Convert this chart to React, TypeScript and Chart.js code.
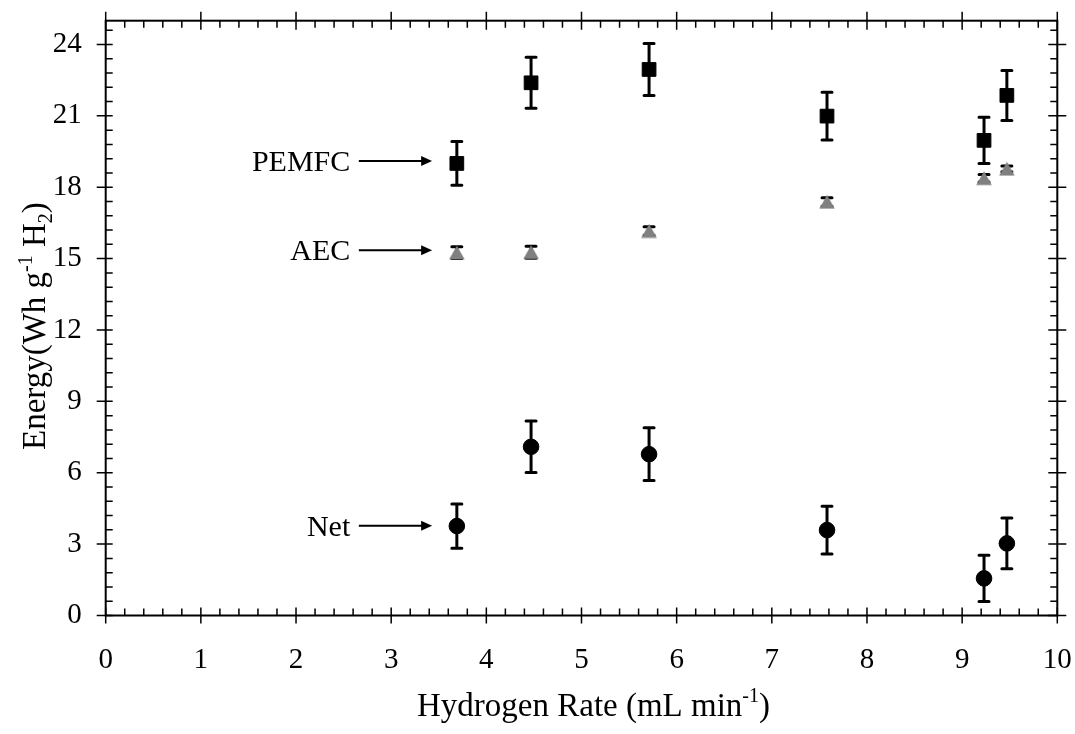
import React, { useEffect, useRef } from 'react';
import { Chart, registerables } from 'chart.js';

Chart.register(...registerables);

// ---------- data ----------
const xRates = [3.69, 4.47, 5.71, 7.58, 9.23, 9.47];
const pemfcEnergy = [19.0, 22.39, 22.95, 20.99, 19.97, 21.86];
const pemfcErr = [0.92, 1.07, 1.09, 1.0, 0.97, 1.05];
const aecEnergy = [15.25, 15.27, 16.16, 17.38, 18.38, 18.77];
const aecErr = [0.25, 0.25, 0.18, 0.18, 0.16, 0.12];
const netEnergy = [3.76, 7.09, 6.78, 3.59, 1.56, 3.03];
const netErr = [0.93, 1.08, 1.11, 1.0, 0.97, 1.07];

const xTicks = [0, 1, 2, 3, 4, 5, 6, 7, 8, 9, 10];
const yTicks = [0, 3, 6, 9, 12, 15, 18, 21, 24];
const xMinorStep = 0.2;
const yMinorStep = 0.6;

const annotationLabels = ['PEMFC', 'AEC', 'Net'];
const annotationY = [19.1, 15.35, 3.77];
const annotationTextEndX = 2.57;
const annotationArrowStartX = 2.66;
const annotationArrowEndX = 3.43;

const FONT = "'Liberation Serif', 'Times New Roman', serif";
const TICK_SIZE = 29;
const ANN_SIZE = 30;
const TITLE_SIZE = 33;

type Part = { t: string; sup?: boolean; sub?: boolean };

function drawRich(ctx: CanvasRenderingContext2D, parts: Part[], cx: number, baseY: number, size: number) {
  const small = Math.round(size * 0.62);
  let total = 0;
  const widths: number[] = [];
  for (const p of parts) {
    ctx.font = `${p.sup || p.sub ? small : size}px ${FONT}`;
    const w = ctx.measureText(p.t).width;
    widths.push(w);
    total += w;
  }
  let x = cx - total / 2;
  ctx.textAlign = 'left';
  ctx.textBaseline = 'alphabetic';
  parts.forEach((p, i) => {
    ctx.font = `${p.sup || p.sub ? small : size}px ${FONT}`;
    const dy = p.sup ? -size * 0.4 : p.sub ? size * 0.22 : 0;
    ctx.fillText(p.t, x, baseY + dy);
    x += widths[i];
  });
}

function makeTriangle(): HTMLCanvasElement {
  const c = document.createElement('canvas');
  c.width = 16;
  c.height = 15;
  const g = c.getContext('2d')!;
  g.fillStyle = '#808080';
  g.beginPath();
  g.moveTo(8, 0.5);
  g.lineTo(15.8, 14.2);
  g.lineTo(0.2, 14.2);
  g.closePath();
  g.fill();
  return c;
}

const errorBarPlugin = {
  id: 'errorBars',
  beforeDatasetsDraw(chart: any) {
    const ctx = chart.ctx as CanvasRenderingContext2D;
    const xs = chart.scales.x;
    const ys = chart.scales.y;
    ctx.save();
    ctx.strokeStyle = '#000';
    chart.data.datasets.forEach((ds: any) => {
      const errs: number[] = ds.errorBars || [];
      ds.data.forEach((pt: any, i: number) => {
        const e = errs[i];
        if (!e) return;
        const px = xs.getPixelForValue(pt.x);
        const top = ys.getPixelForValue(pt.y + e);
        const bot = ys.getPixelForValue(pt.y - e);
        ctx.lineWidth = 3;
        ctx.lineCap = 'butt';
        ctx.beginPath();
        ctx.moveTo(px, top);
        ctx.lineTo(px, bot);
        ctx.stroke();
        ctx.lineCap = 'round';
        ctx.beginPath();
        ctx.moveTo(px - 5, top);
        ctx.lineTo(px + 5, top);
        ctx.moveTo(px - 5, bot);
        ctx.lineTo(px + 5, bot);
        ctx.stroke();
      });
    });
    ctx.restore();
  },
};

const framePlugin = {
  id: 'frameTicks',
  afterDatasetsDraw(chart: any) {
    const ctx = chart.ctx as CanvasRenderingContext2D;
    const { left, right, top, bottom } = chart.chartArea;
    const xs = chart.scales.x;
    const ys = chart.scales.y;
    ctx.save();
    ctx.strokeStyle = '#000';
    ctx.lineCap = 'butt';
    ctx.lineWidth = 1.5;
    ctx.beginPath();
    const nx = Math.round((xs.max - xs.min) / xMinorStep);
    for (let i = 0; i <= nx; i++) {
      const v = xs.min + i * xMinorStep;
      const px = xs.getPixelForValue(v);
      const major = i % 5 === 0;
      if (major) {
        ctx.moveTo(px, bottom + 8);
        ctx.lineTo(px, bottom - 8);
        ctx.moveTo(px, top - 9);
        ctx.lineTo(px, top + 9);
      } else {
        ctx.moveTo(px, bottom);
        ctx.lineTo(px, bottom - 7);
        ctx.moveTo(px, top);
        ctx.lineTo(px, top + 7);
      }
    }
    const ny = Math.floor((ys.max - ys.min) / yMinorStep + 1e-6);
    for (let i = 0; i <= ny; i++) {
      const v = ys.min + i * yMinorStep;
      const py = ys.getPixelForValue(v);
      const major = i % 5 === 0;
      if (major) {
        ctx.moveTo(left - 9, py);
        ctx.lineTo(left + 7, py);
        ctx.moveTo(right + 9, py);
        ctx.lineTo(right - 9, py);
      } else {
        ctx.moveTo(left, py);
        ctx.lineTo(left + 7, py);
        ctx.moveTo(right, py);
        ctx.lineTo(right - 7, py);
      }
    }
    ctx.stroke();
    ctx.lineWidth = 2;
    ctx.strokeRect(left, top, right - left, bottom - top);
    ctx.restore();
  },
  afterDraw(chart: any) {
    const ctx = chart.ctx as CanvasRenderingContext2D;
    const { left, right, top, bottom } = chart.chartArea;
    const xs = chart.scales.x;
    const ys = chart.scales.y;
    ctx.save();
    ctx.fillStyle = '#000';
    ctx.strokeStyle = '#000';
    annotationLabels.forEach((lab, i) => {
      const py = ys.getPixelForValue(annotationY[i]);
      ctx.font = `${ANN_SIZE}px ${FONT}`;
      ctx.textAlign = 'right';
      ctx.textBaseline = 'alphabetic';
      ctx.fillText(lab, xs.getPixelForValue(annotationTextEndX), py + 10);
      const x0 = xs.getPixelForValue(annotationArrowStartX);
      const x1 = xs.getPixelForValue(annotationArrowEndX);
      ctx.lineWidth = 2;
      ctx.beginPath();
      ctx.moveTo(x0, py);
      ctx.lineTo(x1 - 8, py);
      ctx.stroke();
      ctx.beginPath();
      ctx.moveTo(x1, py);
      ctx.lineTo(x1 - 11, py - 5);
      ctx.lineTo(x1 - 11, py + 5);
      ctx.closePath();
      ctx.fill();
    });
    drawRich(
      ctx,
      [{ t: 'Hydrogen Rate (mL min' }, { t: '-1', sup: true }, { t: ')' }],
      (left + right) / 2 + 12,
      bottom + 100,
      TITLE_SIZE
    );
    ctx.save();
    ctx.translate(34, (top + bottom) / 2 + 8);
    ctx.rotate(-Math.PI / 2);
    drawRich(
      ctx,
      [{ t: 'Energy(Wh g' }, { t: '-1', sup: true }, { t: ' H' }, { t: '2', sub: true }, { t: ')' }],
      0,
      11,
      TITLE_SIZE
    );
    ctx.restore();
    ctx.restore();
  },
};

export default function App() {
  const ref = useRef<HTMLCanvasElement | null>(null);
  useEffect(() => {
    document.body.style.margin = '0';
    const canvas = ref.current!;
    const tri = makeTriangle();
    const mk = (vals: number[]) => xRates.map((x, i) => ({ x, y: vals[i] }));
    const chart = new Chart(canvas, {
      type: 'scatter',
      data: {
        datasets: [
          {
            label: 'PEMFC',
            data: mk(pemfcEnergy),
            errorBars: pemfcErr,
            pointStyle: 'rect',
            pointRadius: 9.7,
            backgroundColor: '#000',
            borderColor: '#000',
            borderWidth: 1,
          } as any,
          {
            label: 'AEC',
            data: mk(aecEnergy),
            errorBars: aecErr,
            pointStyle: tri,
            pointRadius: 8,
            backgroundColor: '#808080',
            borderColor: '#808080',
            borderWidth: 0,
          } as any,
          {
            label: 'Net',
            data: mk(netEnergy),
            errorBars: netErr,
            pointStyle: 'circle',
            pointRadius: 7.8,
            backgroundColor: '#000',
            borderColor: '#000',
            borderWidth: 1,
          } as any,
        ],
      },
      options: {
        responsive: false,
        animation: false,
        devicePixelRatio: 1,
        layout: { padding: { top: 20.7, right: 17.7, left: 0, bottom: 0 } },
        plugins: { legend: { display: false }, tooltip: { enabled: false } },
        events: [],
        scales: {
          x: {
            type: 'linear',
            position: 'bottom',
            min: 0,
            max: 10,
            grid: { display: false, drawTicks: false },
            border: { display: false },
            afterBuildTicks: (s: any) => {
              s.ticks = xTicks.map((v) => ({ value: v }));
            },
            afterFit: (s: any) => {
              s.height = 118.5;
              s.paddingLeft = 0;
              s.paddingRight = 0;
            },
            ticks: {
              color: '#000',
              padding: 27,
              maxRotation: 0,
              autoSkip: false,
              font: { family: FONT, size: TICK_SIZE },
            },
          },
          y: {
            type: 'linear',
            position: 'left',
            min: 0,
            max: 25,
            grid: { display: false, drawTicks: false },
            border: { display: false },
            afterBuildTicks: (s: any) => {
              s.ticks = yTicks.map((v) => ({ value: v }));
            },
            afterFit: (s: any) => {
              s.width = 105.7;
              s.paddingTop = 0;
              s.paddingBottom = 0;
            },
            ticks: {
              color: '#000',
              padding: 24,
              autoSkip: false,
              font: { family: FONT, size: TICK_SIZE },
            },
          },
        },
      } as any,
      plugins: [errorBarPlugin, framePlugin],
    });
    return () => chart.destroy();
  }, []);
  return (
    <div style={{ width: 1075, height: 734, background: '#fff' }}>
      <canvas ref={ref} width={1075} height={734} />
    </div>
  );
}
